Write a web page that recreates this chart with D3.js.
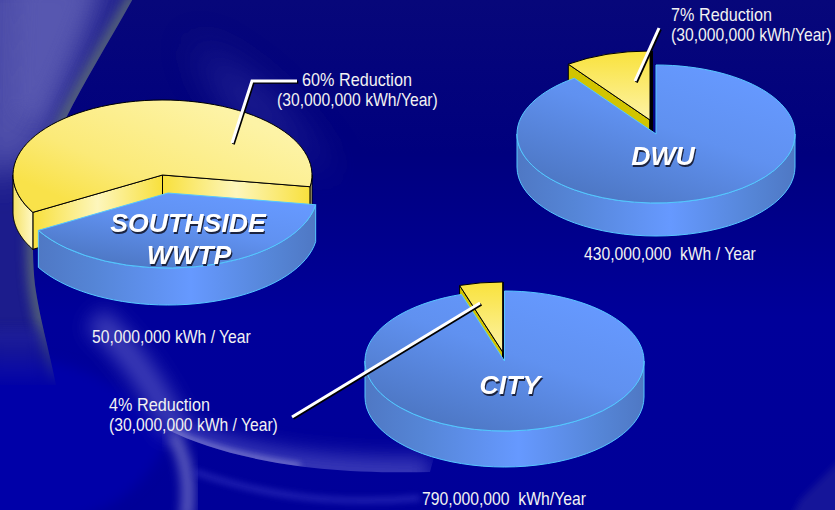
<!DOCTYPE html>
<html><head><meta charset="utf-8">
<style>
html,body{margin:0;padding:0;background:#000080;overflow:hidden}
svg{display:block}
.note{font-family:"Liberation Sans",Arial,sans-serif;font-size:18px;fill:#f2f2f2;white-space:pre}
.name{font-family:"Liberation Sans",Arial,sans-serif;font-size:26.7px;font-weight:bold;font-style:italic;fill:#fff;filter:drop-shadow(1.5px 2px 0 #1c2440)}
</style>
<script src="https://cdn.jsdelivr.net/npm/d3@7/dist/d3.min.js"></script>
</head><body><script>
// ---- data ----
const pieNames = ["SOUTHSIDE", "DWU", "CITY"];
const remainingShare = [39.2, 90, 95];   // blue wedge, share of the drawn pie
const reductionShare = [60.8, 10, 5];    // yellow wedge, share of the drawn pie
const startDegrees = [99, 0, 0];         // where the blue wedge begins, clockwise from north
const reductionNotes = [
  ["60% Reduction", "(30,000,000 kWh/Year)"],
  ["7% Reduction", "(30,000,000 kWh/Year)"],
  ["4% Reduction", "(30,000,000 kWh / Year)"]
];
const totalNotes = ["50,000,000 kWh / Year", "430,000,000  kWh / Year", "790,000,000  kWh/Year"];

// ---- layout ----
const W = 835, H = 510;
const layout = [
  {blue:[168,193], yellow:[162.5,175], rx:149.5, ry:75, depth:37, topFill:"url(#yTopDiag)", cutFill:"url(#ySide)", edge:0},
  {blue:[656,134], yellow:[650,120],  rx:139,   ry:69, depth:33, topFill:"url(#yTopV)",    cutFill:"#d2c400", edge:3},
  {blue:[504.5,361], yellow:[502.7,352], rx:139.5, ry:70, depth:36, topFill:"url(#yTopV)", cutFill:"#d2c400", edge:1}
];
const nameLines = [
  [{t:"SOUTHSIDE",x:188,y:232},{t:"WWTP",x:189,y:264}],
  [{t:"DWU",x:663,y:165}],
  [{t:"CITY",x:510,y:394}]
];
const noteAnchors = [
  [{x:302,y:86,w:110},{x:277,y:106,w:161}],
  [{x:671,y:21,w:101},{x:671,y:41,w:161}],
  [{x:109,y:411,w:101},{x:109,y:431,w:169}]
];
const totalAnchors = [{x:92,y:343,w:159},{x:584,y:260,w:172},{x:422,y:505,w:164}];
const leaders = [
  [[232,143],[252,81],[297,81]],
  [[635,81],[659,28]],
  [[480,303],[292,417]]
];

const svg = d3.select("body").append("svg").attr("width",W).attr("height",H);
const defs = svg.append("defs");

function grad(id, stops, x1, y1, x2, y2){
  const g = defs.append("linearGradient").attr("id",id)
    .attr("x1",x1).attr("y1",y1).attr("x2",x2).attr("y2",y2);
  stops.forEach(s=>g.append("stop").attr("offset",s[0]).attr("stop-color",s[1]));
}
grad("bg",[[0,"#07077a"],[0.3,"#00007e"],[0.62,"#00009a"],[1,"#000098"]],0,0,0,1);
grad("blueTop",[[0,"#6699ff"],[0.45,"#6091f0"],[1,"#4d77c4"]],0.85,0.1,0.25,0.95);
grad("blueSide",[[0,"#4f78c4"],[0.2,"#5585d6"],[0.55,"#6699ff"],[0.85,"#5585d6"],[1,"#4f78c4"]],0,0,1,0);
grad("yTopDiag",[[0,"#f9e24a"],[0.35,"#fbea78"],[1,"#fdf3a6"]],0.1,0.8,0.8,0.2);
grad("yTopV",[[0,"#f9e23c"],[1,"#fdf3a6"]],0.5,0,0.5,1);
grad("ySide",[[0,"#f8e03c"],[0.5,"#fdf6bc"],[1,"#f8e03c"]],0,0,1,0);
grad("yWall",[[0,"#f5e268"],[1,"#fff8c4"]],0,0,1,0);
grad("fadeDown",[[0,"#fff"],[0.82,"#fff"],[1,"#000"]],0,0,0,1);

["b3","b6","b10","b18","b30"].forEach(id=>{
  defs.append("filter").attr("id",id).attr("x","-60%").attr("y","-60%").attr("width","220%").attr("height","220%")
    .append("feGaussianBlur").attr("stdDeviation",+id.slice(1));
});
defs.append("clipPath").attr("id","clipLeft").append("path")
  .attr("d","M135,-5 C110,40 85,80 66,118 C40,170 28,220 35,285 C40,320 48,345 56,385 L-5,385 L-5,-5 Z");
defs.append("mask").attr("id","maskLeft").attr("maskUnits","userSpaceOnUse")
  .attr("x",0).attr("y",0).attr("width",200).attr("height",400)
  .append("rect").attr("width",200).attr("height",400).attr("fill","url(#fadeDown)").attr("y",-10);
defs.append("clipPath").attr("id","clipSwoosh").append("path")
  .attr("d","M168,430 C220,455 300,475 430,472 L460,360 L168,360 Z");

// ---- background swooshes ----
const bg = svg.append("g");
bg.append("rect").attr("width",W).attr("height",H).attr("fill","url(#bg)");
function blurShape(parent, d, fill, op, f){ return parent.append("path").attr("d",d).attr("fill",fill).attr("opacity",op).attr("filter",f?`url(#${f})`:null); }
function blurStroke(parent, d, col, w, op, f){ return parent.append("path").attr("d",d).attr("fill","none").attr("stroke",col).attr("stroke-width",w).attr("opacity",op).attr("filter",`url(#${f})`); }

// lower-left blue field sits under the veil's fading foot
blurShape(bg,"M-20,360 C50,350 120,372 170,438 C150,470 130,530 -20,530 Z","#0000a8",1,"b6");

// upper-left veil with a crisp right edge, fading out at its foot
const leftMask = bg.append("g").attr("mask","url(#maskLeft)");
const left = leftMask.append("g").attr("clip-path","url(#clipLeft)");
left.append("rect").attr("x",-5).attr("y",-5).attr("width",160).attr("height",400).attr("fill","#1c1c8c");
blurShape(left,"M-30,-30 L110,-30 C90,40 60,110 35,165 L-30,175 Z","#4f4faa",1,"b18");
blurShape(left,"M20,-20 L95,-20 C80,30 55,80 40,120 L15,110 Z","#5c5cb2",0.7,"b10");
blurStroke(left,"M135,-5 C110,40 85,80 66,118 C40,170 28,220 35,285 C40,320 48,345 56,385","#5f7074",12,0.95,"b6");
blurShape(left,"M-10,330 L40,330 L40,385 L-10,385 Z","#3030a4",0.5,"b6");

// faint glow near the 60% label
blurShape(bg,"M190,40 C240,70 270,90 300,130 L340,180 L230,110 Z","#3a3aa4",0.55,"b18");

// lavender band running down to the crossing point
blurStroke(bg,"M95,318 C125,345 155,385 176,432","#5a5ac4",26,0.7,"b10");

// swoosh with a crisp lower edge
const sw = bg.append("g").attr("clip-path","url(#clipSwoosh)");
blurStroke(sw,"M168,430 C220,455 300,475 430,472","#4848c0",30,0.8,"b10");
blurStroke(sw,"M168,430 C205,447 245,458 300,466","#9a9adc",5,0.75,"b3");

// stem below the crossing point and the fainter lower ribbon
blurStroke(bg,"M172,434 C186,455 191,485 186,520","#8484cc",11,0.8,"b6");
blurStroke(bg,"M195,472 C270,498 340,505 420,498","#3e3ec8",6,0.55,"b3");
blurShape(bg,"M800,500 L850,450 L850,520 L790,520 Z","#2a2a9a",0.5,"b3");

// ---- pies ----
const deg = Math.PI/180;
const sweep = d3.scaleLinear().domain([0,1]);
function wallPath(c, r, a0, a1){
  sweep.range([a0,a1]);
  const top = d3.range(0,41).map(i=>{const a=sweep(i/40);return [c[0]+r.rx*Math.sin(a), c[1]-r.ry*Math.cos(a)];});
  const bot = top.slice().reverse().map(p=>[p[0],p[1]+r.depth]);
  return d3.line()(top.concat(bot))+"Z";
}
function cutPath(c, r, a){
  const rim=[c[0]+r.rx*Math.sin(a), c[1]-r.ry*Math.cos(a)];
  return d3.line()([c,rim,[rim[0],rim[1]+r.depth],[c[0],c[1]+r.depth]])+"Z";
}
function visibleWall(a0,a1){
  const out=[];
  [[90*deg,270*deg],[450*deg,630*deg]].forEach(w=>{
    const s=Math.max(a0,w[0]), e=Math.min(a1,w[1]);
    if(e>s) out.push([s,e]);
  });
  return out;
}

const arc = d3.arc().innerRadius(0);
const pies = pieNames.map((n,i)=>{
  const p = d3.pie().sort(null).startAngle(startDegrees[i]*deg).endAngle((startDegrees[i]+360)*deg);
  return p([remainingShare[i], reductionShare[i]]);
});

const gPies = svg.append("g");
pieNames.forEach((n,i)=>{
  const r = layout[i], [blueArc,yellowArc] = pies[i];
  const g = gPies.append("g").attr("class","pie").attr("data-name",n);
  arc.outerRadius(r.rx);

  const y = g.append("g");
  [yellowArc.startAngle, yellowArc.endAngle].forEach(a=>{
    y.append("path").attr("d",cutPath(r.yellow,r,a)).attr("fill",r.cutFill)
      .attr("stroke","#000").attr("stroke-width",1).attr("stroke-linejoin","round");
  });
  visibleWall(yellowArc.startAngle,yellowArc.endAngle).forEach(w=>{
    y.append("path").attr("d",wallPath(r.yellow,r,w[0],w[1])).attr("fill","url(#yWall)")
      .attr("stroke","#000").attr("stroke-width",1);
  });
  if(r.edge){
    const top = r.yellow[1]-r.ry;
    y.append("line").attr("x1",r.yellow[0]+r.edge/2).attr("x2",r.yellow[0]+r.edge/2)
      .attr("y1",top).attr("y2",r.blue[1]).attr("stroke","#000").attr("stroke-width",r.edge);
  }
  y.append("path").datum(yellowArc).attr("d",arc)
    .attr("transform",`translate(${r.yellow}) scale(1,${r.ry/r.rx})`)
    .attr("fill",r.topFill).attr("stroke","#000").attr("stroke-width",1).attr("vector-effect","non-scaling-stroke");

  const b = g.append("g");
  visibleWall(blueArc.startAngle,blueArc.endAngle).forEach(w=>{
    b.append("path").attr("d",wallPath(r.blue,r,w[0],w[1])).attr("fill","url(#blueSide)")
      .attr("stroke","#55c8ff").attr("stroke-width",1);
  });
  b.append("path").datum(blueArc).attr("d",arc)
    .attr("transform",`translate(${r.blue}) scale(1,${r.ry/r.rx})`)
    .attr("fill","url(#blueTop)").attr("stroke","#55c8ff").attr("stroke-width",1).attr("vector-effect","non-scaling-stroke");
});

// ---- leaders ----
const line = d3.line();
leaders.forEach(pts=>{
  svg.append("path").attr("d",line(pts.map(p=>[p[0]+1.3,p[1]+1.3]))).attr("fill","none").attr("stroke","#000").attr("stroke-width",3);
  svg.append("path").attr("d",line(pts)).attr("fill","none").attr("stroke","#fff").attr("stroke-width",3);
});

// ---- text (condensed horizontally to stand in for a narrow face) ----
const notes = svg.append("g");
function note(t,a){
  const el = notes.append("text").attr("class","note").text(t);
  const k = a.w / el.node().getComputedTextLength();
  el.attr("transform",`translate(${a.x},${a.y}) scale(${k},1)`);
}
reductionNotes.forEach((lines,i)=>lines.forEach((t,j)=>note(t,noteAnchors[i][j])));
totalNotes.forEach((t,i)=>note(t,totalAnchors[i]));
nameLines.forEach(ls=>ls.forEach(l=>{
  svg.append("text").attr("class","name").attr("x",l.x).attr("y",l.y).attr("text-anchor","middle").text(l.t);
}));
</script></body></html>
